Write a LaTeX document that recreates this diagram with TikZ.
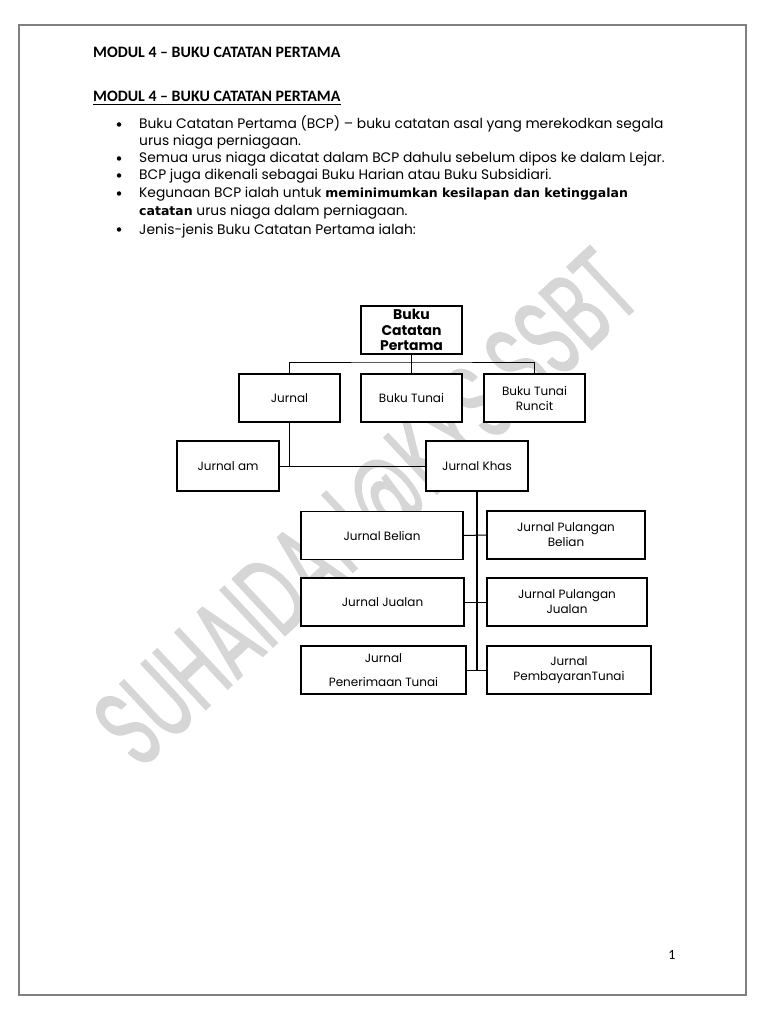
\documentclass[tikz,border=0pt]{standalone}
\usepackage{fontspec}
\setmainfont{Poppins}
\newfontfamily\headfont{Carlito}
\newfontfamily\strongfont{DejaVu Sans}
\newfontfamily\markfont[FakeBold=1.6]{Poppins}
\usetikzlibrary{positioning,calc}
\newcommand{\bodysize}{\fontsize{13.8}{16}\selectfont}
\newcommand{\boxsize}{\fontsize{12}{15}\selectfont}
\tikzset{
  pageframe/.style={draw=black!50, line width=2pt},
  heading/.style={font=\headfont\bfseries\fontsize{15.9}{18}\selectfont, anchor=base west, inner sep=0pt},
  bodytxt/.style={font=\bodysize, anchor=base west, inner sep=0pt},
  bulletdot/.style={circle, fill=black, inner sep=0pt, minimum size=4.5pt},
  watermark/.style={text=black!16, rotate=43, inner sep=0pt},
  mainbox/.style={draw=black, line width=1.6pt, fill=white, minimum width=101pt,
    minimum height=48pt, align=center, inner sep=1pt, font=\boxsize},
  subbox/.style={draw=black, line width=1.1pt, fill=white, minimum height=48pt,
    align=center, inner sep=1pt, font=\boxsize},
  link/.style={draw=black, line width=1pt},
  spine/.style={draw=black, line width=1.8pt},
  pagenum/.style={font=\headfont\fontsize{14}{16}\selectfont, inner sep=0pt},
}
\newcommand{\bulletat}[2]{\node[bulletdot] (#1) at (119,#2) {};}

\begin{document}
\begin{tikzpicture}[x=1pt, y=-1pt]
  \useasboundingbox (0,0) rectangle (768,1024);
  \fill[white] (0,0) rectangle (768,1024);
  \draw[pageframe] (19,25) rectangle (746,995);

  % watermark, under the boxes
  \node[watermark] (wm) at (373,515)
    {\resizebox{690pt}{78pt}{\markfont\fontsize{60}{60}\selectfont SUHAIDAH@KYS.SSBT}};

  % headings
  \node[heading] (head1) at (93,57.5) {MODUL 4 \textendash\ BUKU CATATAN PERTAMA};
  \node[heading] (head2) at (93,101.5) {MODUL 4 \textendash\ BUKU CATATAN PERTAMA};
  \draw[line width=1pt] (head2.south west) ++(0,3) coordinate (ul1) -- (ul1 -| head2.south east);

  % bullet list
  \bulletat{d1}{124.5}
  \bulletat{d3}{158.5}
  \bulletat{d4}{175.5}
  \bulletat{d5}{193.5}
  \bulletat{d7}{229.5}
  \node[bodytxt] (l1) at (139,129) {Buku Catatan Pertama (BCP) \textendash\ buku catatan asal yang merekodkan segala};
  \node[bodytxt] (l2) at (139,146) {urus niaga perniagaan.};
  \node[bodytxt] (l3) at (139,163) {Semua urus niaga dicatat dalam BCP dahulu sebelum dipos ke dalam Lejar.};
  \node[bodytxt] (l4) at (139,180) {BCP juga dikenali sebagai Buku Harian atau Buku Subsidiari.};
  \node[bodytxt] (l5) at (139,198) {Kegunaan BCP ialah untuk {\strongfont\bfseries\fontsize{12.5}{16}\selectfont meminimumkan kesilapan dan ketinggalan}};
  \node[bodytxt] (l6) at (139,216) {{\strongfont\bfseries\fontsize{12.5}{16}\selectfont catatan} urus niaga dalam perniagaan.};
  \node[bodytxt] (l7) at (139,234) {Jenis-jenis Buku Catatan Pertama ialah:};

  % chart
  \node[mainbox, font=\bfseries\fontsize{14}{15.5}\selectfont] (bcp) at (411.5,330) {Buku\\Catatan\\Pertama};
  \node[mainbox] (jurnal) at (289.5,398) {Jurnal};
  \node[mainbox] (tunai) at (411.5,398) {Buku Tunai};
  \node[mainbox] (runcit) at (534.5,398) {Buku Tunai\\Runcit};
  \node[mainbox, minimum width=102pt, minimum height=50pt] (am) at (228,466) {Jurnal am};
  \node[mainbox, minimum width=102pt, minimum height=50pt] (khas) at (477,466) {Jurnal Khas};

  \node[subbox, minimum width=162pt] (belian) at (382,535.5) {Jurnal Belian};
  \node[subbox, minimum width=158pt] (pbelian) at (566,535) {Jurnal Pulangan\\Belian};
  \node[subbox, minimum width=163pt] (jualan) at (382.5,602) {Jurnal Jualan};
  \node[subbox, minimum width=160pt] (pjualan) at (567,602) {Jurnal Pulangan\\Jualan};
  \node[subbox, minimum width=165pt] (terima) at (383.5,670) {Jurnal\\[9pt]Penerimaan Tunai};
  \node[subbox, minimum width=164pt] (bayar) at (569,670) {Jurnal\\PembayaranTunai};

  \coordinate (topbar) at (411.5,362);
  \draw[link] (bcp.south) -- (tunai.north);
  \draw[link] (jurnal.north) |- (topbar) -| (runcit.north);
  \draw[link] (jurnal.south) -- (jurnal.south |- am.east);
  \draw[link] (am.east) -- (khas.west);
  \draw[spine] (khas.south) -- (khas.south |- terima.east);
  \foreach \lft/\rgt in {belian/pbelian, jualan/pjualan, terima/bayar}
    \draw[link] (\lft.east) -- (\rgt.west);

  \node[pagenum] (pnum) at (672,955) {1};
\end{tikzpicture}
\end{document}
